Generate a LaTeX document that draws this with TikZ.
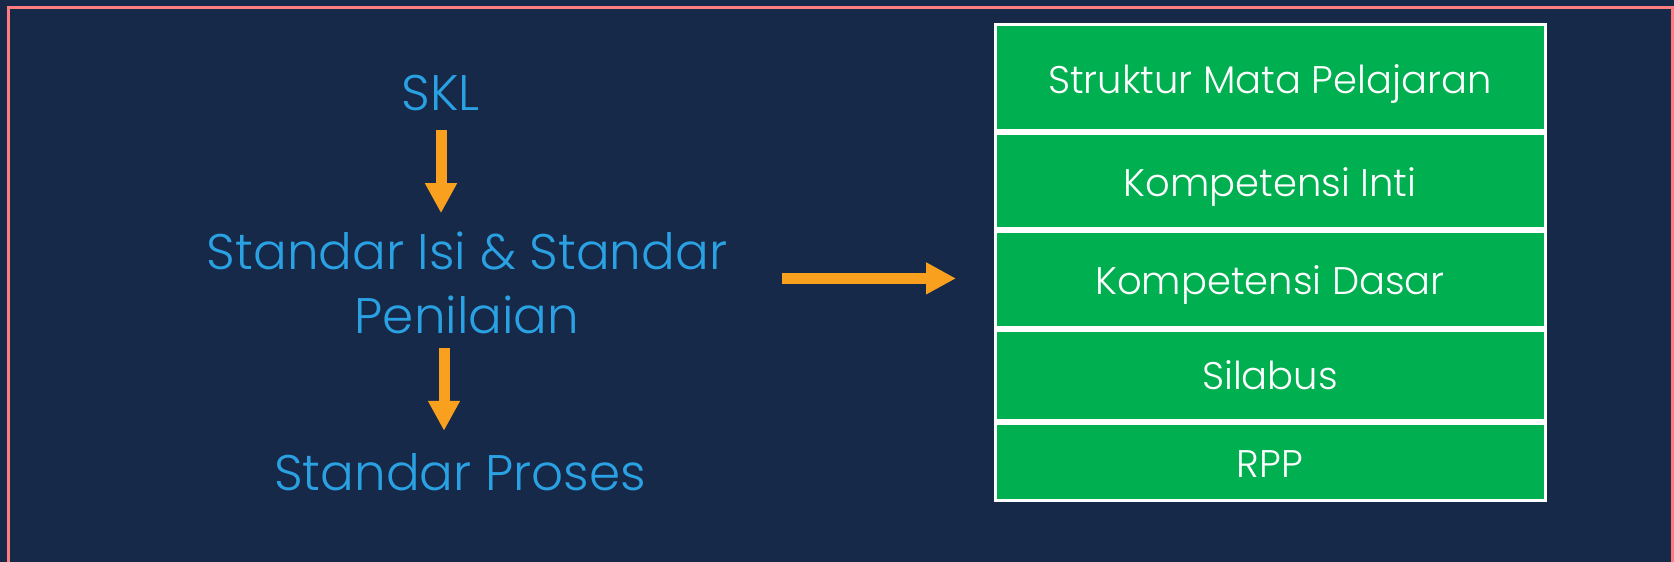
\documentclass[tikz,border=0pt]{standalone}
\usepackage{fontspec}
\setmainfont{Poppins Light}
\usetikzlibrary{arrows.meta,calc}

\definecolor{navy}{HTML}{162949}
\definecolor{skyblue}{HTML}{2AA1E3}
\definecolor{amber}{HTML}{F9A11E}
\definecolor{leaf}{HTML}{00AF50}
\definecolor{rose}{HTML}{FF7C80}

\tikzset{
	stdtext/.style={text=skyblue, font=\fontsize{50}{64}\selectfont, align=center, inner sep=0pt},
	flow/.style={draw=amber, line width=11pt, -{Triangle[length=30pt, width=30pt]}},
	layer/.style={rectangle, draw=white, line width=3pt, fill=leaf,
		minimum width=550pt, inner sep=0pt, outer sep=0pt},
	layertext/.style={text=white, font=\fontsize{38.5}{44}\selectfont, anchor=base}
}

\begin{document}
\begin{tikzpicture}[x=1pt, y=-1pt]
	\useasboundingbox (0,0) rectangle (1674,562);
	\fill[navy] (0,0) rectangle (1674,562);
	\begin{scope}
		\clip (0,0) rectangle (1674,562);
		\draw[rose, line width=3pt] (8,7) rectangle (1672,600);
	\end{scope}

	% left column
	\node[stdtext, anchor=base] at (441,110) (skl) {SKL};
	\node[stdtext, anchor=base] at (467,333) (isi) {Standar Isi \& Standar\\Penilaian};
	\node[stdtext, anchor=base] at (460,490) (proses) {Standar Proses};

	\draw[flow, shorten <=19pt, shorten >=18pt] (skl.south) -- (skl.south |- isi.north);
	\draw[flow, shorten <=14pt, shorten >=22pt] ([xshift=-23pt]isi.south) -- ([xshift=-16pt]proses.north);

	% right column
	\node[layer, minimum height=106pt] at (1270,77.5) (smp) {};
	\node[layer, minimum height=95pt] at (1270,181) (ki) {};
	\node[layer, minimum height=96pt] at (1270,279.5) (kd) {};
	\node[layer, minimum height=90pt] at (1270,375.5) (silabus) {};
	\node[layer, minimum height=77pt] at (1270,462) (rpp) {};

	\node[layertext] at (smp.center |- 0,93) (smptext) {Struktur Mata Pelajaran};
	\node[layertext] at (ki.center |- 0,196) (kitext) {Kompetensi Inti};
	\node[layertext] at (kd.center |- 0,294) (kdtext) {Kompetensi Dasar};
	\node[layertext] at (silabus.center |- 0,389) (silabustext) {Silabus};
	\node[layertext] at (rpp.center |- 0,477) (rpptext) {RPP};

	\draw[flow, shorten <=55pt, shorten >=39pt] ([yshift=4pt]isi.east) -- ([yshift=4pt]kd.west |- isi.east);
\end{tikzpicture}
\end{document}
